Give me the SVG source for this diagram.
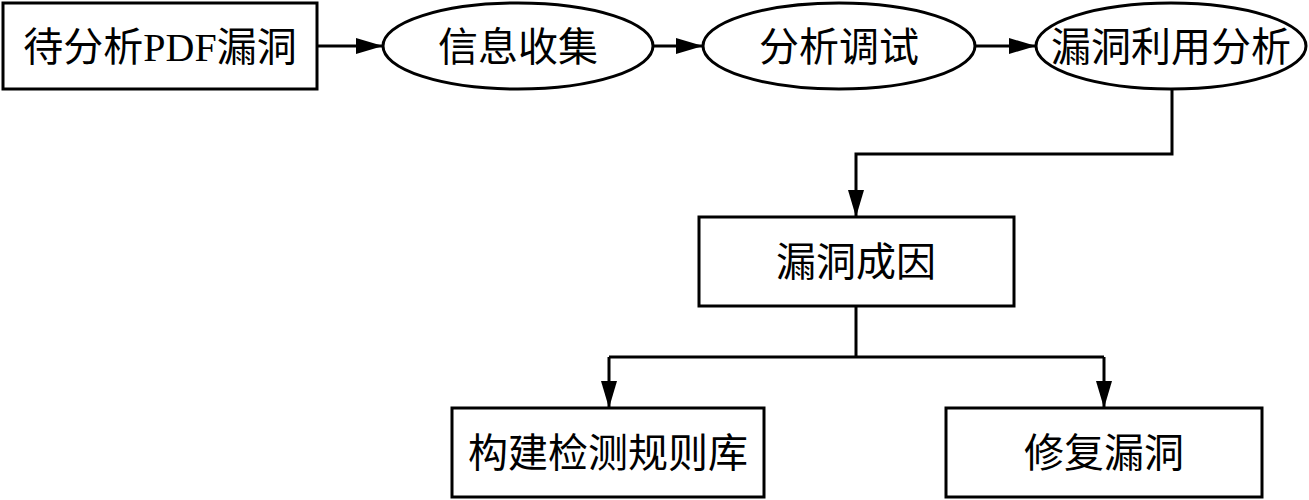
<svg xmlns="http://www.w3.org/2000/svg" width="1309" height="500" viewBox="0 0 1309 500">
<style>
.n{fill:#fff;stroke:#000;stroke-width:3}
.t{font-family:"Liberation Serif","Noto Sans CJK SC",serif;font-size:40px;fill:#000;text-anchor:middle}
.c{fill:none;stroke:#000;stroke-width:3}
</style>
<defs>
<marker id="a" viewBox="0 0 27 16" refX="27" refY="8" markerWidth="27" markerHeight="16" markerUnits="userSpaceOnUse" orient="auto">
<path d="M0,0 L27,8 L0,16 Z" fill="#000"/>
</marker>
</defs>
<rect width="1309" height="500" fill="#fff"/>
<g id="connectors">
<path class="c" d="M317,46 H383" marker-end="url(#a)"/>
<path class="c" d="M653,46 H703" marker-end="url(#a)"/>
<path class="c" d="M975,46 H1036" marker-end="url(#a)"/>
<path class="c" d="M1172,89 V154 H856 V217" marker-end="url(#a)"/>
<path class="c" d="M856,306 V357"/>
<path class="c" d="M609,357 H1104"/>
<path class="c" d="M609,357 V408" marker-end="url(#a)"/>
<path class="c" d="M1104,357 V408" marker-end="url(#a)"/>
</g>
<g id="n1"><rect class="n" x="3" y="3" width="314" height="86"/><text class="t" x="160" y="61">待分析PDF漏洞</text></g>
<g id="n2"><ellipse class="n" cx="518" cy="46" rx="135" ry="43"/><text class="t" x="518" y="61">信息收集</text></g>
<g id="n3"><ellipse class="n" cx="839" cy="46" rx="136" ry="43"/><text class="t" x="839" y="61">分析调试</text></g>
<g id="n4"><ellipse class="n" cx="1171" cy="46" rx="135" ry="43"/><text class="t" x="1171" y="61">漏洞利用分析</text></g>
<g id="n5"><rect class="n" x="699" y="217" width="315" height="89"/><text class="t" x="856" y="276">漏洞成因</text></g>
<g id="n6"><rect class="n" x="452" y="408" width="312" height="89"/><text class="t" x="608" y="467">构建检测规则库</text></g>
<g id="n7"><rect class="n" x="946" y="408" width="316" height="89"/><text class="t" x="1104" y="467">修复漏洞</text></g>
</svg>
